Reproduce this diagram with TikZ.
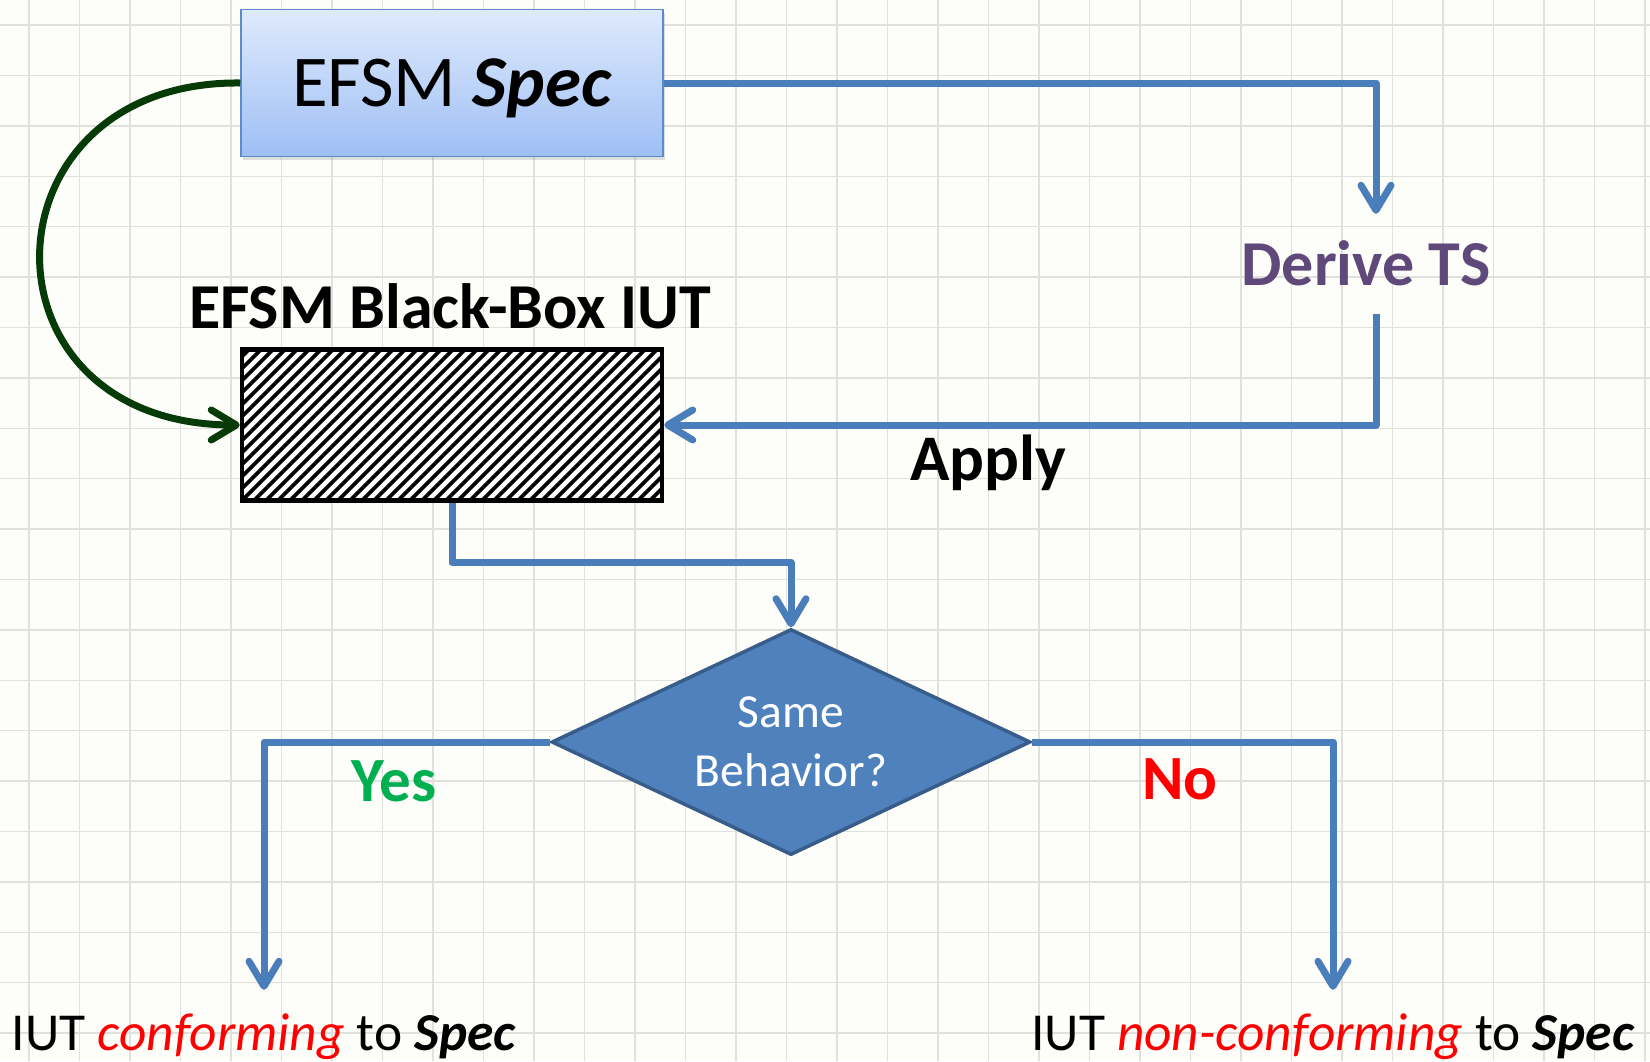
\documentclass[tikz,border=0pt]{standalone}
\usepackage{fontspec}
\setmainfont{Carlito}
\usetikzlibrary{arrows.meta,shapes.geometric,shadows}

\definecolor{flowblue}{RGB}{74,126,187}
\definecolor{specborder}{RGB}{91,140,205}
\definecolor{spectop}{RGB}{223,234,252}
\definecolor{specbottom}{RGB}{158,191,245}
\definecolor{loopgreen}{RGB}{6,58,6}
\definecolor{tspurple}{RGB}{95,73,122}
\definecolor{yesgreen}{RGB}{0,176,80}
\definecolor{diafill}{RGB}{79,129,189}
\definecolor{diaborder}{RGB}{56,93,138}
\definecolor{paper}{RGB}{253,253,250}
\definecolor{gridline}{RGB}{224,224,220}

\tikzset{
  barb/.style={-{Straight Barb[length=25pt,width=30pt,round]}},
  flow/.style={draw=flowblue, line width=7pt, line join=round, barb},
  specbox/.style={draw=specborder, line width=1.5pt, top color=spectop, bottom color=specbottom,
    minimum width=422pt, minimum height=147pt, inner sep=0pt,
    text height=46pt, text depth=0pt,
    drop shadow={shadow xshift=2pt, shadow yshift=-3pt, opacity=0.25},
    font=\fontsize{73}{80}\selectfont},
  iutbox/.style={draw=black, line width=4.5pt, fill=white, inner sep=0pt,
    minimum width=420pt, minimum height=151pt,
    path picture={\foreach \k in {-15,...,36}
      \draw[line width=3.6pt] ([xshift=\k*12pt]path picture bounding box.south west) -- ++(170pt,170pt);}},
  decision/.style={diamond, shape aspect=2.11, draw=diaborder, line width=3.5pt, fill=diafill, text=white,
    minimum width=479pt, minimum height=226pt, inner sep=0pt, align=center,
    font=\fontsize{47.5}{59}\selectfont},
  bigbold/.style={anchor=base, font=\fontsize{#1}{#1}\selectfont\bfseries},
  result/.style={anchor=base, font=\fontsize{53.4}{60}\selectfont,
    text height=60pt, text depth=8pt, inner ysep=0pt}
}

\begin{document}
\begin{tikzpicture}[x=1pt,y=-1pt]
  \useasboundingbox (0,0) rectangle (1650,1061);
  \fill[paper] (0,0) rectangle (1650,1061);
  \foreach \i in {0,...,32}
    \draw[gridline, line width=1.4pt] (29+50.5*\i,0) -- (29+50.5*\i,1061);
  \foreach \j in {0,...,20}
    \draw[gridline, line width=1.4pt] (0,25+50.4*\j) -- (1650,25+50.4*\j);

  \node[specbox] (spec) at (452,83) {EFSM \textbf{\textit{Spec}}};
  \node[iutbox] (iut) at (452,425) {};
  \node[bigbold=64] (iutlabel) at (450,328) {EFSM Black-Box IUT};
  \node[bigbold=64, text=tspurple, text height=42pt, text depth=0pt, inner ysep=29pt] (derive) at (1366,285) {Derive TS};
  \node[bigbold=65] (apply) at (988,480) {Apply};
  \node[decision] (decide) at (791,742) {Same\\Behavior?};
  \node[bigbold=63, text=yesgreen] (yes) at (394,801) {Yes};
  \node[bigbold=63, text=red] (no) at (1180,799) {No};
  \node[result] (conform) at (264,1050) {IUT \textcolor{red}{\textit{conforming}} to \textbf{\textit{Spec}}};
  \node[result] (nonconform) at (1333,1050) {IUT \textcolor{red}{\textit{non-conforming}} to \textbf{\textit{Spec}}};

  \draw[flow] (spec.east) -| ([xshift=10pt]derive.north);
  \draw[flow] ([xshift=10pt]derive.south) |- (iut.east);
  \draw[loopgreen, line width=7pt, barb] (spec.west) .. controls +(-262,-3) and +(-270,0) .. (iut.west);
  \draw[flow] (iut.south) -- ++(0,60) -| (decide.north);
  \draw[flow] (decide.west) -| (conform.north);
  \draw[flow] (decide.east) -| (nonconform.north);
\end{tikzpicture}
\end{document}
